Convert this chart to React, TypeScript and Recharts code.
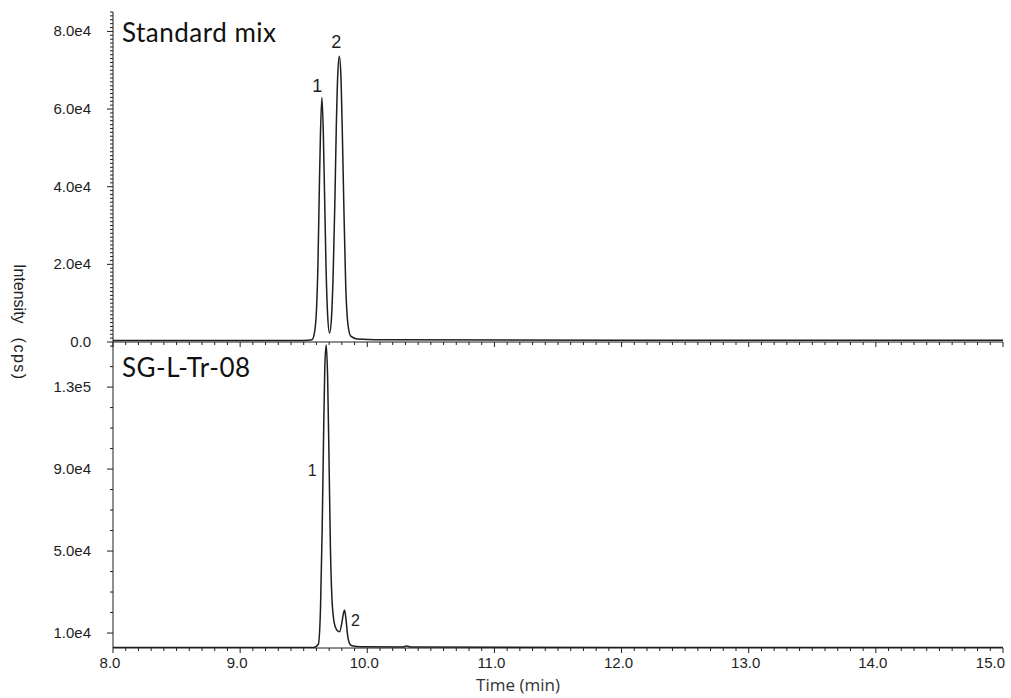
import { Line, LineChart, ReferenceDot, XAxis, YAxis } from "recharts";

// Standard mix trace (time in min, intensity in cps)
const mixTime = [
  8.0, 9.5, 9.565, 9.585, 9.6, 9.612, 9.622, 9.632, 9.643, 9.654, 9.664, 9.675,
  9.688, 9.703, 9.718, 9.732, 9.745, 9.756, 9.768, 9.78, 9.792, 9.803, 9.815,
  9.83, 9.848, 9.87, 9.92, 10.2, 12.0, 15.0,
];
const mixIntensity = [
  400, 400, 600, 2500, 8000, 20000, 38000, 54000, 63000, 54000, 38000, 20000,
  7000, 2300, 6000, 18000, 36000, 55000, 69000, 73600, 69000, 55000, 36000,
  15000, 4500, 1500, 800, 550, 450, 450,
];

// SG-L-Tr-08 trace
const sampleTime = [
  8.0, 9.58, 9.615, 9.632, 9.645, 9.656, 9.666, 9.677, 9.688, 9.699, 9.71,
  9.722, 9.74, 9.76, 9.782, 9.8, 9.812, 9.821, 9.832, 9.845, 9.86, 9.88, 9.95,
  10.28, 10.31, 10.34, 12.0, 15.0,
];
const sampleIntensity = [
  3000, 3000, 4500, 22000, 60000, 105000, 140000, 150500, 135000, 95000, 52000,
  27000, 15000, 11500, 10600, 15000, 19500, 21200, 17000, 9000, 5000, 3800,
  3300, 3200, 3700, 3200, 3000, 3000,
];

// peak number annotations (placed in data coordinates)
const mixPeakLabels = [
  { name: "1", t: 9.606, v: 66000 },
  { name: "2", t: 9.756, v: 77500 },
];
const samplePeakLabels = [
  { name: "1", t: 9.567, v: 89500 },
  { name: "2", t: 9.906, v: 16300 },
];

const timeLabels = [8, 9, 10, 11, 12, 13, 14, 15];
const timeTicks = Array.from({ length: 71 }, (_, i) => Math.round(80 + i) / 10);
const mixLabels = [0, 20000, 40000, 60000, 80000];
const mixTicks = Array.from({ length: 86 }, (_, i) => i * 1000);
const sampleLabels = [10000, 50000, 90000, 130000];
const sampleTicks = Array.from({ length: 15 }, (_, i) => 10000 + i * 10000);

const mixData = mixTime.map((t, i) => ({ t, v: mixIntensity[i] }));
const sampleData = sampleTime.map((t, i) => ({ t, v: sampleIntensity[i] }));

const INK = "#1e1e1e";
const TICK_FONT = "'Liberation Sans', Arial, sans-serif";

const fmtIntensity = (v: number) =>
  v === 0 ? "0.0" : v.toExponential(1).replace("e+", "e");

function YTick(props: any) {
  const { x, y, payload, labels } = props;
  const major = labels.includes(payload.value);
  return (
    <g>
      <line x1={x - (major ? 6 : 3)} x2={x} y1={y} y2={y} stroke={INK} strokeWidth={1} />
      {major && (
        <text
          x={x - 22}
          y={y}
          dy={5}
          textAnchor="end"
          fontFamily={TICK_FONT}
          fontSize={15}
          fill={INK}
        >
          {fmtIntensity(payload.value)}
        </text>
      )}
    </g>
  );
}

function XTick(props: any) {
  const { x, y, payload, showLabels } = props;
  const major = timeLabels.includes(payload.value);
  const last = payload.value === timeLabels[timeLabels.length - 1];
  return (
    <g>
      <line x1={x} x2={x} y1={y} y2={y + (major ? 5 : 3)} stroke={INK} strokeWidth={1} />
      {major && showLabels && (
        <text
          x={last ? x + 2 : x - 3}
          y={y + 20}
          textAnchor={last ? "end" : "middle"}
          fontFamily={TICK_FONT}
          fontSize={15}
          fill={INK}
        >
          {payload.value.toFixed(1)}
        </text>
      )}
    </g>
  );
}

function PeakLabel(props: any) {
  const { viewBox, value, size } = props;
  return (
    <text
      x={viewBox.x}
      y={viewBox.y}
      dy={size * 0.36}
      textAnchor="middle"
      fontFamily={TICK_FONT}
      fontSize={size}
      fill={INK}
    >
      {value}
    </text>
  );
}

export default function App() {
  return (
    <div style={{ position: "absolute", left: 0, top: 0, width: 1011, height: 698, background: "#fff" }}>
      <div style={{ position: "absolute", left: 0, top: 0 }}>
        <LineChart width={1011} height={350} data={mixData} margin={{ top: 12, right: 8, left: 0, bottom: 0 }}>
          <XAxis
            dataKey="t"
            type="number"
            domain={[8, 15]}
            ticks={timeTicks}
            interval={0}
            height={8}
            tickSize={0}
            tickMargin={0}
            tickLine={false}
            axisLine={{ stroke: INK }}
            tick={(p: any) => <XTick {...p} showLabels={false} />}
          />
          <YAxis
            type="number"
            domain={[0, 85000]}
            ticks={mixTicks}
            interval={0}
            width={113}
            tickSize={0}
            tickMargin={0}
            tickLine={false}
            axisLine={{ stroke: INK }}
            tick={(p: any) => <YTick {...p} labels={mixLabels} />}
          />
          <Line
            dataKey="v"
            type="monotone"
            stroke={INK}
            strokeWidth={1.5}
            dot={false}
            isAnimationActive={false}
          />
          {mixPeakLabels.map((p) => (
            <ReferenceDot
              key={p.name}
              x={p.t}
              y={p.v}
              r={0}
              fill="none"
              stroke="none"
              label={(lp: any) => <PeakLabel {...lp} value={p.name} size={18} />}
            />
          ))}
        </LineChart>
      </div>
      <div style={{ position: "absolute", left: 0, top: 332 }}>
        <LineChart width={1011} height={366} data={sampleData} margin={{ top: 10, right: 8, left: 0, bottom: 0 }}>
          <XAxis
            dataKey="t"
            type="number"
            domain={[8, 15]}
            ticks={timeTicks}
            interval={0}
            height={50}
            tickSize={0}
            tickMargin={0}
            tickLine={false}
            axisLine={{ stroke: INK }}
            tick={(p: any) => <XTick {...p} showLabels={true} />}
          />
          <YAxis
            type="number"
            domain={[2700, 152000]}
            allowDataOverflow
            ticks={sampleTicks}
            interval={0}
            width={113}
            tickSize={0}
            tickMargin={0}
            tickLine={false}
            axisLine={{ stroke: INK }}
            tick={(p: any) => <YTick {...p} labels={sampleLabels} />}
          />
          <Line
            dataKey="v"
            type="monotone"
            stroke={INK}
            strokeWidth={1.5}
            dot={false}
            isAnimationActive={false}
          />
          {samplePeakLabels.map((p) => (
            <ReferenceDot
              key={p.name}
              x={p.t}
              y={p.v}
              r={0}
              fill="none"
              stroke="none"
              label={(lp: any) => <PeakLabel {...lp} value={p.name} size={16} />}
            />
          ))}
        </LineChart>
      </div>
      <svg
        width={1011}
        height={698}
        style={{ position: "absolute", left: 0, top: 0, pointerEvents: "none" }}
      >
        <text x={122} y={42} fontFamily="Lato, 'Open Sans', sans-serif" fontSize={26} letterSpacing={0.5} fill="#111">
          Standard mix
        </text>
        <text x={122} y={377} fontFamily="Lato, 'Open Sans', sans-serif" fontSize={26} letterSpacing={0.5} fill="#111">
          SG-L-Tr-08
        </text>
        <text
          x={14}
          y={264}
          transform="rotate(90 14 264)"
          fontFamily={TICK_FONT}
          fontSize={16}
          fill="#222"
        >
          Intensity
          <tspan dx={14} letterSpacing={1.5}>(cps)</tspan>
        </text>
        <text
          x={518}
          y={691}
          textAnchor="middle"
          fontFamily="'Open Sans', sans-serif"
          fontSize={17}
          fill="#333"
        >
          Time (min)
        </text>
      </svg>
    </div>
  );
}
